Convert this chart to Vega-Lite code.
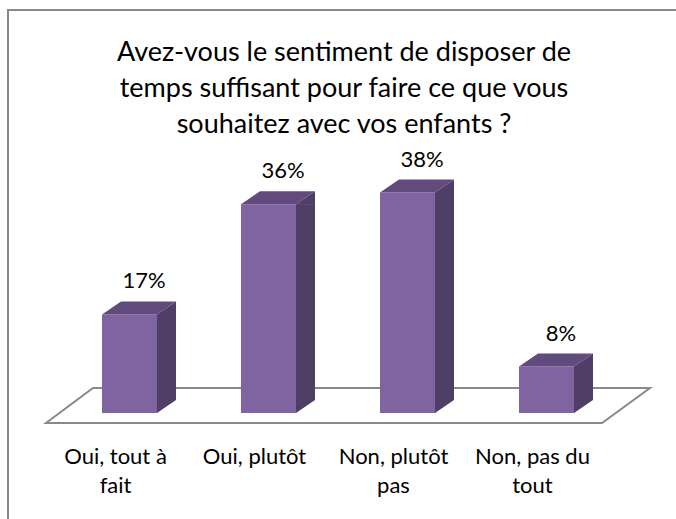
{
  "$schema": "https://vega.github.io/schema/vega-lite/v6.json",
  "width": 672,
  "height": 513,
  "autosize": {"type": "none"},
  "padding": {"left": 8, "top": 10, "right": -4, "bottom": -4},
  "background": "white",
  "config": {"view": {"stroke": "#898989", "strokeWidth": 2}, "font": "Lato"},
  "title": {
    "text": ["Avez-vous le sentiment de disposer de", "temps suffisant pour faire ce que vous", "souhaitez avec vos enfants ?"],
    "fontSize": 27, "font": "Lato", "fontWeight": "normal", "color": "#000000",
    "anchor": "middle", "frame": "group", "baseline": "alphabetic", "offset": -48, "lineHeight": 36, "dy": 102
  },
  "data": {"values": [
    {"reponse": "Oui, tout à fait", "part": 0.17},
    {"reponse": "Oui, plutôt", "part": 0.36},
    {"reponse": "Non, plutôt pas", "part": 0.38},
    {"reponse": "Non, pas du tout", "part": 0.08}
  ]},
  "encoding": {
    "x": {
      "field": "reponse", "type": "nominal", "sort": null,
      "scale": {"range": [38, 594], "paddingInner": 0, "paddingOuter": 0},
      "axis": {
        "orient": "bottom", "offset": -110, "domain": false, "ticks": false, "grid": false, "title": null,
        "labelAngle": 0, "labelFontSize": 22, "labelFont": "Lato", "labelColor": "#000000",
        "labelPadding": 50, "labelBaseline": "alphabetic", "labelLineHeight": 29, "labelOverlap": false,
        "labelExpr": "length(datum.label) > 12 ? [substring(datum.label, 0, lastindexof(datum.label, ' ')), substring(datum.label, lastindexof(datum.label, ' ') + 1)] : datum.label"
      }
    },
    "y": {"field": "part", "type": "quantitative", "scale": {"domain": [-0.18966, 0.69483], "nice": false, "zero": false}, "axis": null}
  },
  "layer": [
    {
      "transform": [{"filter": "datum.reponse === 'Oui, tout à fait'"}],
      "mark": {"type": "point", "shape": "M-69.5,10 L486.5,10 L534.5,-25 L-22.5,-25 Z", "size": 4, "filled": false, "stroke": "#898989", "strokeWidth": 2, "opacity": 1},
      "encoding": {"y": {"datum": 0}}
    },
    {
      "mark": {"type": "bar", "width": 55, "xOffset": 14, "color": "#8064A2"},
      "encoding": {"y2": {"datum": 0}}
    },
    {
      "mark": {"type": "bar", "width": 19, "xOffset": 51, "color": "#4F3E66", "y2Offset": -13},
      "encoding": {"y2": {"datum": 0}}
    },
    {
      "mark": {"type": "point", "shape": "M-13.5,0 L41.5,0 L60.5,-13 L5.5,-13 Z", "size": 4, "filled": true, "color": "#614B7D", "opacity": 1}
    },
    {
      "mark": {"type": "point", "shape": "M41.5,0.5 L41.5,0 L60.5,-13 L60.5,0.5 Z", "size": 4, "filled": true, "color": "#4F3E66", "opacity": 1}
    },
    {
      "mark": {"type": "point", "shape": "M41.5,-13.5 L41.5,0 L60.5,-13 L60.5,-13.5 Z", "size": 4, "filled": true, "color": "#4F3E66", "opacity": 1},
      "encoding": {"y": {"datum": 0}}
    },
    {
      "mark": {"type": "text", "fontSize": 22, "font": "Lato", "color": "#000000", "align": "center", "baseline": "alphabetic", "dx": 28.5, "dy": -26},
      "encoding": {"text": {"field": "part", "type": "quantitative", "format": ".0%"}}
    }
  ]
}
